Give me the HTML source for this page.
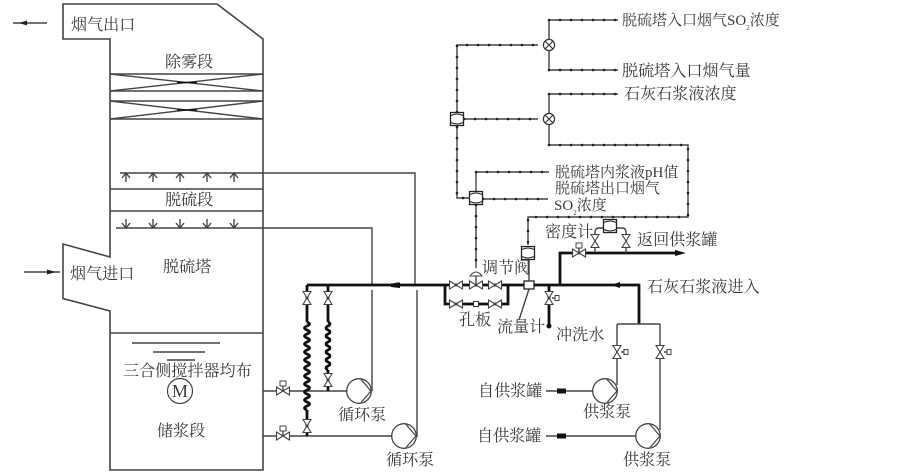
<!DOCTYPE html>
<html><head><meta charset="utf-8">
<style>
html,body{margin:0;padding:0;background:#fff;width:903px;height:475px;overflow:hidden}
svg{display:block;filter:blur(.35px)}
text{font-family:"Liberation Serif","Noto Serif CJK SC",serif;font-size:16.1px;fill:#3a3a3a}
.t{fill:none;stroke:#444;stroke-width:1.4}
.m{fill:none;stroke:#444;stroke-width:1.6}
.k{fill:none;stroke:#111;stroke-width:2.8}
.s{fill:none;stroke:#444;stroke-width:1.4}
.d{fill:none;stroke:#222;stroke-width:2.6;stroke-linecap:round;stroke-dasharray:.1 10.9}
</style></head><body>
<svg width="903" height="475" viewBox="0 0 903 475" xmlns="http://www.w3.org/2000/svg">
<defs>
<g id="vh"><path d="M-6.5-4 L6.5 4 V-4 L-6.5 4Z" fill="#fff" stroke="#444" stroke-width="1.1"/></g>
<g id="vv"><path d="M-4-6.5 L4 6.5 H-4 L4-6.5Z" fill="#fff" stroke="#444" stroke-width="1.1"/></g>
<g id="pump"><circle r="12.3" fill="#fff" stroke="#444" stroke-width="1.3"/><path d="M2-11.5 L12 0 L2 11.5" fill="none" stroke="#444" stroke-width="1.2"/></g>
<g id="mult"><circle r="5.6" fill="#fff" stroke="#333" stroke-width="1.2"/><path d="M-4-4 4 4M-4 4 4-4" stroke="#333" stroke-width="1.1"/></g>
<g id="box"><rect x="-6.5" y="-6.5" width="13" height="13" fill="#fff" stroke="#222" stroke-width="1.3"/><path d="M-6-3.5 Q0-6.5 6-3.5M-6 3.5 Q0 6.5 6 3.5" fill="none" stroke="#222" stroke-width="1"/></g>
</defs>

<!-- tower -->
<path class="m" d="M63 4H217L263 39V470H110V311L63 298.5V244L110 257V39H63Z"/>
<path class="m" d="M110 74H263M110 91H263M110 101H263M110 119H263M110 189H263M110 211H263M110 333H263"/>
<path class="t" d="M110 74L263 91M110 91L263 74M110 101L263 119M110 119L263 101"/>
<path d="M177 81.7h20v1.6h-20zM177 109.2h20v1.6h-20z" fill="#111"/>
<path class="t" d="M120 173H415V285M116 228H372V285"/>
<path class="t" stroke-width="1" d="M126 173v9M122 178l4-5 4 5M153 173v9M149 178l4-5 4 5M180 173v9M176 178l4-5 4 5M207 173v9M203 178l4-5 4 5M234 173v9M230 178l4-5 4 5"/>
<path class="t" stroke-width="1" d="M126 219v9M122 223l4 5 4-5M153 219v9M149 223l4 5 4-5M180 219v9M176 223l4 5 4-5M207 219v9M203 223l4 5 4-5M234 219v9M230 223l4 5 4-5"/>

<!-- gas arrows -->
<path class="t" d="M13 23H47"/>
<path d="M13 23l8-2.5v5z" fill="#222" transform="translate(6 0)"/>
<path class="t" d="M24 272H60"/>
<path d="M47 269.5l9 2.5-9 2.5z" fill="#222"/>

<!-- agitator -->
<path d="M132 343H220M153 352H205M167 360H195" stroke="#444" stroke-width="1.4" fill="none"/>
<circle cx="180" cy="391" r="12.5" fill="#fff" stroke="#444" stroke-width="1.2"/>
<text x="172" y="397" style="font-size:18px">M</text>

<!-- circulation -->
<path class="t" d="M372 290V391M417 290V437M263 391H347M263 436H392"/>
<path class="k" d="M307 285H445M307 285V322M328 285V322M307 410V436M328 370V391"/>
<path class="k" stroke-width="2.2" d="M307 322q5 2 0 4t0 4t0 4t0 4t0 4t0 4t0 4t0 4t0 4t0 4t0 4t0 4t0 4t0 4t0 4t0 4t0 4t0 4t0 4t0 4t0 4t0 4M328 322q4 2 0 4t0 4t0 4t0 4t0 4t0 4t0 4t0 4t0 4t0 4t0 4t0 4"/>
<path d="M391 283.5l9-1v5.5l-9-1z" fill="#111"/><rect x="396" y="282.5" width="4" height="5" fill="#111"/>
<use href="#vv" x="307" y="298"/><use href="#vv" x="328" y="298"/><use href="#vv" x="328" y="380"/><use href="#vv" x="307" y="426"/>
<use href="#pump" x="359" y="391"/><use href="#pump" x="404" y="436"/>
<use href="#vh" x="283" y="391"/><use href="#vh" x="283" y="436"/>
<path class="t" d="M283 391v-7M283 436v-7"/>
<rect x="280" y="381" width="6" height="5" fill="#fff" stroke="#444"/><rect x="280" y="426" width="6" height="5" fill="#fff" stroke="#444"/>

<!-- main line and bypass -->
<path class="k" d="M445 285H560M445 285V304H508V285M560 285V253H600M560 285H639V324"/>
<path class="k" stroke-width="2.2" d="M600 253H678"/>
<path d="M675 250l11 3-11 3z" fill="#111"/>
<path d="M611 285l9-3v6z" fill="#111"/>
<use href="#vh" x="456" y="285"/><use href="#vh" x="476" y="285"/><use href="#vh" x="495" y="285"/>
<use href="#vh" x="456" y="304"/><use href="#vh" x="495" y="304"/>
<rect x="473.5" y="301.5" width="5" height="5" fill="#fff" stroke="#333"/>
<path d="M470 276Q476 268 482 276Z" fill="#fff" stroke="#444"/>
<path class="t" d="M476 276V285"/>
<rect x="524" y="281" width="10" height="8" fill="#fff" stroke="#222" stroke-width="1.3"/>
<path class="t" d="M529 289L519 320M529 260V281"/>

<!-- flush -->
<path class="k" stroke-width="1.8" d="M549 285V325"/>
<circle cx="549" cy="326" r="2.5" fill="#111"/>
<use href="#vv" x="549" y="298"/>
<path class="t" d="M552 298h3"/><rect x="555" y="295.5" width="4" height="5" fill="#fff" stroke="#444"/>

<!-- density -->
<path class="t" d="M595 253V232Q595 228 599 228H622Q626 228 626 232V253"/>
<use href="#box" x="610" y="226"/>
<use href="#vv" x="595" y="241"/><use href="#vv" x="626" y="241"/>
<use href="#vh" x="579" y="253"/>
<path class="t" d="M579 253v-6"/><rect x="576" y="243" width="6" height="5" fill="#fff" stroke="#444"/>

<!-- supply -->
<path class="t" d="M617 324H660M617 324V385M660 324V430M546 391H593M546 436H636"/>
<use href="#vv" x="617" y="352"/><use href="#vv" x="660" y="352"/>
<rect x="624" y="349.5" width="4" height="5" fill="#fff" stroke="#444"/><rect x="667" y="349.5" width="4" height="5" fill="#fff" stroke="#444"/>
<path class="t" d="M621 352h3M664 352h3"/>
<use href="#pump" x="605" y="391"/><use href="#pump" x="648" y="436"/>
<path d="M557 388.5h9v5h-9zM557 433.5h9v5h-9z" fill="#111"/>

<!-- signals -->
<g>
<path class="s" d="M457 112V45H538M549 51V70H618M549 39V20H618M464 119H538M549 113V94H618M549 125V145H688V217H528V245M457 127V198H470M476 192V172H549M483 199H548M476 205V268"/>
<path class="d" d="M457 112V45H538M549 70H618M549 20H618M464 119H538M549 94H618M549 145H688V217H528V245M457 127V198H470M476 172H549M483 199H548M476 205V268"/>
<use href="#mult" x="549" y="45"/><use href="#mult" x="549" y="119"/>
<use href="#box" x="457" y="119"/><use href="#box" x="476" y="198"/>
<use href="#box" x="528" y="253"/>
</g>

<!-- labels -->
<text x="71" y="30">烟气出口</text>
<text x="165" y="67">除雾段</text>
<text x="165" y="205">脱硫段</text>
<text x="163" y="272">脱硫塔</text>
<text x="70" y="279">烟气进口</text>
<text x="123" y="376">三合侧搅拌器均布</text>
<text x="157" y="436">储浆段</text>
<text x="338" y="420">循环泵</text>
<text x="386" y="465">循环泵</text>
<text x="622" y="25" style="font-size:15px">脱硫塔入口烟气SO<tspan dy="5" style="font-size:7px">2</tspan><tspan dy="-5">浓度</tspan></text>
<text x="622" y="76">脱硫塔入口烟气量</text>
<text x="624" y="99">石灰石浆液浓度</text>
<text x="555" y="177" style="font-size:15px">脱硫塔内浆液pH值</text>
<text x="555" y="193" style="font-size:15px">脱硫塔出口烟气</text>
<text x="554" y="210" style="font-size:15px">SO<tspan dy="5" style="font-size:7px">2</tspan><tspan dy="-5">浓度</tspan></text>
<text x="545" y="237">密度计</text>
<text x="637" y="245">返回供浆罐</text>
<text x="482" y="273">调节阀</text>
<text x="647" y="292">石灰石浆液进入</text>
<text x="459" y="325">孔板</text>
<text x="497" y="332">流量计</text>
<text x="556" y="340">冲洗水</text>
<text x="478" y="396">自供浆罐</text>
<text x="477" y="441">自供浆罐</text>
<text x="583" y="417">供浆泵</text>
<text x="623" y="465">供浆泵</text>
</svg>
</body></html>
